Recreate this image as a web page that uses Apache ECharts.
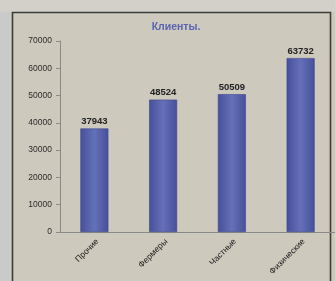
<!DOCTYPE html>
<html>
<head>
<meta charset="utf-8">
<script src="https://cdn.jsdelivr.net/npm/echarts@6/dist/echarts.min.js"></script>
<style>
  html, body { margin: 0; padding: 0; background: #cdc9bd; }
  #chart { width: 335px; height: 281px; }
</style>
</head>
<body>
<div id="chart"></div>
<script>
// клиенты по группам
const categories = ['Прочие', 'Фермеры', 'Частные', 'Физические'];
const clients = [37943, 48524, 50509, 63732];
const yTicks = [0, 10000, 20000, 30000, 40000, 50000, 60000, 70000];

const myChart = echarts.init(document.getElementById('chart'));

const barColor = {
  type: 'linear', x: 0, y: 0, x2: 1, y2: 0,
  colorStops: [
    { offset: 0, color: '#46509a' },
    { offset: 0.5, color: '#6470b8' },
    { offset: 1, color: '#46509a' }
  ]
};

const option = {
  backgroundColor: '#cdc9bd',
  animation: false,
  graphic: [
    {
      type: 'rect', z: -1, silent: true,
      shape: { x: 0, y: 0, width: 12, height: 281 },
      style: { fill: '#c9cbcb' }
    },
    {
      type: 'rect', z: -1, silent: true,
      shape: { x: 0, y: 0, width: 335, height: 12 },
      style: { fill: '#d2d0c8' }
    },
    {
      type: 'rect', z: 0, silent: true,
      shape: { x: 12.5, y: 12.5, width: 318, height: 290 },
      style: { fill: 'none', stroke: '#3c3c3a', lineWidth: 1.6 }
    }
  ],
  title: {
    text: 'Клиенты.',
    left: 171,
    top: 17,
    textAlign: 'center',
    textStyle: {
      fontFamily: 'Liberation Sans',
      fontSize: 10.5,
      fontWeight: 'bold',
      color: '#5a64b0'
    }
  },
  grid: { left: 60, top: 41, width: 277, bottom: 49 },
  xAxis: {
    type: 'category',
    data: categories,
    axisLine: { lineStyle: { color: '#8a8a86', width: 1 } },
    axisTick: { show: false },
    axisLabel: {
      rotate: 45,
      interval: 0,
      margin: 5,
      verticalAlign: 'top',
      fontFamily: 'Liberation Sans',
      fontSize: 8.5,
      color: '#1c1c1c'
    }
  },
  yAxis: {
    type: 'value',
    min: 0,
    max: 70000,
    interval: 10000,
    axisLine: { show: true, lineStyle: { color: '#8a8a86', width: 1 } },
    axisTick: { show: true, length: 4, lineStyle: { color: '#8a8a86' } },
    splitLine: { show: false },
    axisLabel: {
      margin: 8,
      fontFamily: 'Liberation Sans',
      fontSize: 8.5,
      color: '#2a2a2a',
      formatter: v => yTicks.includes(v) ? String(v) : ''
    }
  },
  series: [
    {
      type: 'bar',
      data: clients,
      barWidth: 28,
      itemStyle: {
        color: barColor,
        borderColor: '#3e478c',
        borderWidth: 0.6
      },
      label: {
        show: true,
        position: 'top',
        distance: 2,
        fontFamily: 'Liberation Sans',
        fontSize: 9.5,
        fontWeight: 'bold',
        color: '#222222'
      }
    }
  ]
};

myChart.setOption(option);
</script>
</body>
</html>
